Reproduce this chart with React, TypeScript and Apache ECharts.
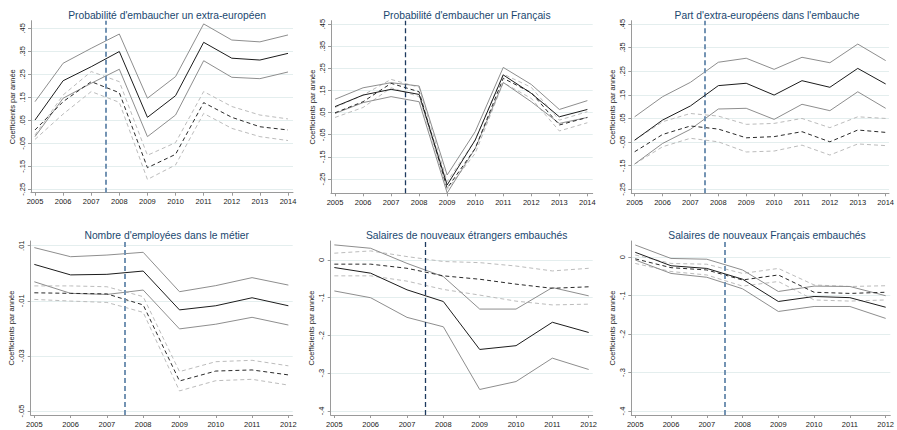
import React, { useEffect, useRef } from "react";
import * as echarts from "echarts";

// ---------- data ----------
const yearsTop = [2005, 2006, 2007, 2008, 2009, 2010, 2011, 2012, 2013, 2014];
const yearsBottom = [2005, 2006, 2007, 2008, 2009, 2010, 2011, 2012];

const titles = [
  "Probabilité d'embaucher un extra-européen",
  "Probabilité d'embaucher un Français",
  "Part d'extra-européens dans l'embauche",
  "Nombre d'employées dans le métier",
  "Salaires de nouveaux étrangers embauchés",
  "Salaires de nouveaux Français embauchés",
];
const yAxisName = "Coefficients par année";

const ticksTop = [-0.25, -0.15, -0.05, 0.05, 0.15, 0.25, 0.35, 0.45];
const ticksEmp = [-0.05, -0.03, -0.01, 0.01];
const ticksWage = [-0.4, -0.3, -0.2, -0.1, 0];

// Panel 1
const p1Est = [0.051, 0.222, 0.283, 0.349, 0.063, 0.157, 0.389, 0.32, 0.312, 0.341];
const p1Hi = [0.131, 0.298, 0.363, 0.425, 0.146, 0.24, 0.469, 0.399, 0.391, 0.421];
const p1Lo = [-0.021, 0.146, 0.211, 0.272, -0.021, 0.073, 0.309, 0.237, 0.231, 0.26];
const p1EstD = [0.008, 0.131, 0.218, 0.17, -0.156, -0.098, 0.127, 0.063, 0.022, 0.008];
const p1HiD = [-0.014, 0.16, 0.262, 0.218, -0.102, -0.047, 0.175, 0.11, 0.073, 0.056];
const p1LoD = [-0.033, 0.077, 0.175, 0.128, -0.207, -0.144, 0.08, 0.015, -0.021, -0.038];

// Panel 2
const p2Est = [0.077, 0.129, 0.155, 0.132, -0.277, -0.074, 0.22, 0.137, 0.031, 0.064];
const p2Hi = [0.11, 0.162, 0.185, 0.17, -0.232, -0.036, 0.254, 0.177, 0.064, 0.104];
const p2Lo = [0.046, 0.095, 0.122, 0.099, -0.313, -0.112, 0.186, 0.099, 0.001, 0.028];
const p2EstD = [0.049, 0.099, 0.182, 0.144, -0.292, -0.112, 0.205, 0.14, -0.006, 0.028];
const p2HiD = [0.073, 0.129, 0.2, 0.164, -0.262, -0.074, 0.224, 0.164, 0.016, 0.054];
const p2LoD = [0.028, 0.073, 0.162, 0.122, -0.297, -0.134, 0.185, 0.114, -0.033, 0.004];

// Panel 3
const p3Est = [-0.042, 0.043, 0.103, 0.189, 0.199, 0.149, 0.21, 0.182, 0.262, 0.196];
const p3Hi = [0.057, 0.142, 0.203, 0.288, 0.305, 0.258, 0.309, 0.286, 0.365, 0.295];
const p3Lo = [-0.143, -0.056, 0.004, 0.09, 0.093, 0.046, 0.11, 0.083, 0.163, 0.093];
const p3EstD = [-0.091, -0.018, 0.018, 0.005, -0.032, -0.027, -0.006, -0.049, 0.001, -0.009];
const p3HiD = [-0.042, 0.036, 0.071, 0.06, 0.025, 0.029, 0.05, 0.011, 0.057, 0.05];
const p3LoD = [-0.143, -0.07, -0.034, -0.049, -0.092, -0.088, -0.063, -0.105, -0.058, -0.065];

// Panel 4
const p4Est = [0.0032, -0.0006, -0.0004, 0.0008, -0.0133, -0.0118, -0.0089, -0.0118];
const p4Hi = [0.0093, 0.006, 0.0066, 0.0076, -0.0067, -0.0045, -0.0016, -0.0043];
const p4Lo = [-0.0031, -0.0073, -0.0077, -0.0061, -0.0202, -0.0185, -0.016, -0.0188];
const p4EstD = [-0.0071, -0.0073, -0.0075, -0.0115, -0.0391, -0.0355, -0.0351, -0.0369];
const p4HiD = [-0.0046, -0.0046, -0.0049, -0.0085, -0.0357, -0.0321, -0.0316, -0.0336];
const p4LoD = [-0.0095, -0.0101, -0.0106, -0.0142, -0.0427, -0.039, -0.0385, -0.0406];

// Panel 5
const p5Est = [-0.02, -0.035, -0.079, -0.11, -0.237, -0.227, -0.165, -0.192];
const p5Hi = [0.04, 0.031, -0.009, -0.044, -0.13, -0.13, -0.073, -0.095];
const p5Lo = [-0.082, -0.1, -0.152, -0.177, -0.343, -0.322, -0.26, -0.29];
const p5EstD = [-0.011, -0.011, -0.022, -0.042, -0.051, -0.064, -0.075, -0.071];
const p5HiD = [0.018, 0.024, 0.009, -0.004, -0.007, -0.016, -0.029, -0.022];
const p5LoD = [-0.042, -0.042, -0.056, -0.078, -0.093, -0.109, -0.119, -0.117];

// Panel 6
const p6Est = [0.013, -0.022, -0.029, -0.057, -0.115, -0.102, -0.105, -0.13];
const p6Hi = [0.032, -0.003, -0.005, -0.033, -0.089, -0.075, -0.076, -0.1];
const p6Lo = [-0.007, -0.042, -0.052, -0.082, -0.141, -0.128, -0.128, -0.159];
const p6EstD = [-0.004, -0.027, -0.033, -0.059, -0.046, -0.091, -0.094, -0.091];
const p6HiD = [0.006, -0.016, -0.018, -0.042, -0.029, -0.072, -0.076, -0.074];
const p6LoD = [-0.016, -0.037, -0.046, -0.075, -0.063, -0.111, -0.114, -0.111];

const reformYear = 2007.5;

// ---------- layout ----------
type Panel = {
  years: number[];
  est: number[]; hi: number[]; lo: number[];
  estD: number[]; hiD: number[]; loD: number[];
  ticks: number[];
  box: [number, number, number, number]; // left, top, right, bottom (px)
  xr: [number, number];
  yr: [number, number];
  vDark: boolean;
};

const panels: Panel[] = [
  { years: yearsTop, est: p1Est, hi: p1Hi, lo: p1Lo, estD: p1EstD, hiD: p1HiD, loD: p1LoD, ticks: ticksTop,
    box: [31, 20.7, 293, 192.7], xr: [2004.858, 2014.178], yr: [-0.2647, 0.483], vDark: false },
  { years: yearsTop, est: p2Est, hi: p2Hi, lo: p2Lo, estD: p2EstD, hiD: p2HiD, loD: p2LoD, ticks: ticksTop,
    box: [331, 20.7, 592.7, 193.3], xr: [2004.857, 2014.19], yr: [-0.3146, 0.465], vDark: true },
  { years: yearsTop, est: p3Est, hi: p3Hi, lo: p3Lo, estD: p3EstD, hiD: p3HiD, loD: p3LoD, ticks: ticksTop,
    box: [631.3, 20.7, 892.7, 193.3], xr: [2004.88, 2014.12], yr: [-0.267, 0.464], vDark: false },
  { years: yearsBottom, est: p4Est, hi: p4Hi, lo: p4Lo, estD: p4EstD, hiD: p4HiD, loD: p4LoD, ticks: ticksEmp,
    box: [30.7, 241, 292.7, 415], xr: [2004.9, 2012.12], yr: [-0.05145, 0.0117], vDark: false },
  { years: yearsBottom, est: p5Est, hi: p5Hi, lo: p5Lo, estD: p5EstD, hiD: p5HiD, loD: p5LoD, ticks: ticksWage,
    box: [330.7, 241, 592.7, 415], xr: [2004.9, 2012.11], yr: [-0.4106, 0.0503], vDark: true },
  { years: yearsBottom, est: p6Est, hi: p6Hi, lo: p6Lo, estD: p6EstD, hiD: p6HiD, loD: p6LoD, ticks: ticksWage,
    box: [631.3, 241, 892.7, 415], xr: [2004.89, 2012.13], yr: [-0.4104, 0.0424], vDark: false },
];

const FONT = "'Liberation Sans', Arial, sans-serif";

function fmtTick(v: number): string {
  const r = Math.round(v * 1000) / 1000;
  if (r === 0) return "0";
  let s = String(r);
  s = s.replace("0.", ".");
  return s;
}

function buildOption(): any {
  const grid: any[] = [];
  const xAxis: any[] = [];
  const yAxis: any[] = [];
  const series: any[] = [];
  const title: any[] = [];

  panels.forEach((p, i) => {
    const [l, t, r, b] = p.box;
    grid.push({ left: l, top: t, width: r - l, height: b - t, containLabel: false });
    title.push({
      text: titles[i],
      left: (l + r) / 2,
      top: i < 3 ? 5 : 225,
      textAlign: "center",
      textStyle: { fontFamily: FONT, fontSize: 10.3, fontWeight: "normal", color: "#1a476f" },
    });
    xAxis.push({
      type: "value",
      gridIndex: i,
      min: p.xr[0],
      max: p.xr[1],
      axisLine: { show: true, onZero: false, lineStyle: { color: "#9a9a9a", width: 1 } },
      axisTick: { show: true, length: 3, lineStyle: { color: "#9a9a9a" }, customValues: p.years },
      axisLabel: {
        show: true, customValues: p.years, margin: 5,
        fontFamily: FONT, fontSize: 7.5, color: "#222",
        formatter: (v: number) => String(Math.round(v)),
      },
      splitLine: { show: false },
    });
    yAxis.push({
      type: "value",
      gridIndex: i,
      min: p.yr[0],
      max: p.yr[1],
      name: yAxisName,
      nameLocation: "middle",
      nameGap: 15,
      nameTextStyle: { fontFamily: FONT, fontSize: 7.5, color: "#222" },
      axisLine: { show: true, onZero: false, lineStyle: { color: "#9a9a9a", width: 1 } },
      axisTick: { show: true, length: 3, lineStyle: { color: "#9a9a9a" }, customValues: p.ticks },
      axisLabel: {
        show: true, customValues: p.ticks, rotate: 90, margin: 5,
        fontFamily: FONT, fontSize: 7.5, color: "#222",
        formatter: (v: number) => fmtTick(v),
      },
      splitLine: { show: true, lineStyle: { color: "#e4eeee", width: 1 } },
    });

    const mk = (arr: number[], color: string, dashed: boolean, z: number, extra?: any) => {
      const s: any = {
        type: "line",
        xAxisIndex: i,
        yAxisIndex: i,
        data: p.years.map((y, k) => [y, arr[k]]),
        showSymbol: false,
        symbol: "none",
        clip: false,
        silent: true,
        z,
        lineStyle: { color, width: 1, type: dashed ? [4, 3] : "solid" },
      };
      if (extra) Object.assign(s, extra);
      series.push(s);
    };
    mk(p.hiD, "#bcbcbc", true, 2);
    mk(p.loD, "#bcbcbc", true, 2);
    mk(p.hi, "#8e8e8e", false, 3);
    mk(p.lo, "#8e8e8e", false, 3);
    mk(p.estD, "#2a2a2a", true, 4);
    mk(p.est, "#1c1c1c", false, 5, {
      markLine: {
        silent: true,
        symbol: ["none", "none"],
        label: { show: false },
        lineStyle: p.vDark
          ? { color: "#1d3a5f", width: 1.3, type: [5, 3] }
          : { color: "#7393b3", width: 2, type: [5, 3] },
        data: [{ xAxis: reformYear }],
      },
    });
  });

  return { animation: false, backgroundColor: "#ffffff", title, grid, xAxis, yAxis, series };
}

export default function App() {
  const ref = useRef<HTMLDivElement>(null);
  useEffect(() => {
    if (!ref.current) return;
    const chart = echarts.init(ref.current, undefined, { renderer: "svg" });
    chart.setOption(buildOption());
    return () => chart.dispose();
  }, []);
  return (
    <div
      ref={ref}
      style={{ position: "fixed", left: 0, top: 0, width: 897, height: 430, background: "#fff" }}
    />
  );
}
